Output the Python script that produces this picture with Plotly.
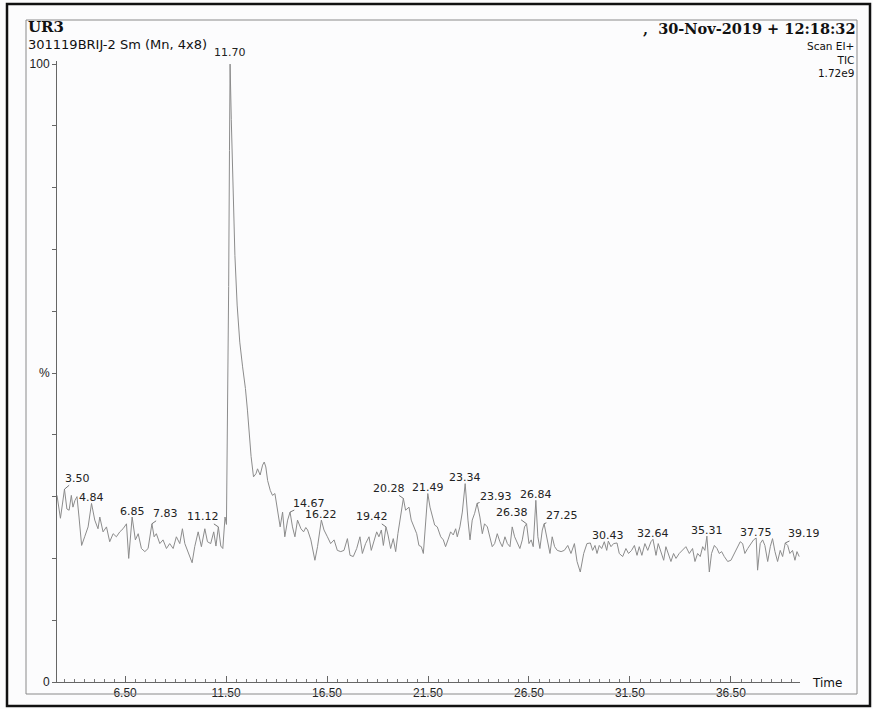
import plotly.graph_objects as go

# ---------------- data ----------------
time_min = [
    3.13, 3.22, 3.30, 3.40, 3.50, 3.62, 3.73, 3.84, 3.92, 4.02, 4.12, 4.22, 4.35, 4.50, 4.67,
    4.84, 5.00, 5.16, 5.25, 5.41, 5.58, 5.74, 5.91, 6.07, 6.24, 6.40, 6.57, 6.68, 6.85, 7.01,
    7.15, 7.31, 7.48, 7.64, 7.83, 7.94, 8.05, 8.22, 8.38, 8.55, 8.71, 8.88, 9.04, 9.21, 9.34,
    9.46, 9.62, 9.82, 9.95, 10.12, 10.28, 10.45, 10.58, 10.74, 10.89, 11.00, 11.12, 11.24, 11.34,
    11.45, 11.52, 11.58, 11.63, 11.67, 11.70, 11.76, 11.84, 11.94, 12.05, 12.18, 12.32, 12.46,
    12.56, 12.65, 12.74, 12.86, 12.98, 13.06, 13.19, 13.31, 13.39, 13.47, 13.56, 13.69, 13.80,
    13.92, 14.05, 14.18, 14.30, 14.41, 14.55, 14.67, 14.79, 14.91, 15.04, 15.21, 15.34, 15.45,
    15.54, 15.70, 15.90, 16.03, 16.22, 16.35, 16.52, 16.68, 16.85, 17.01, 17.18, 17.34, 17.51,
    17.64, 17.80, 17.97, 18.13, 18.25, 18.41, 18.58, 18.69, 18.83, 18.96, 19.07, 19.19, 19.29,
    19.42, 19.52, 19.65, 19.78, 19.90, 20.01, 20.15, 20.28, 20.39, 20.56, 20.67, 20.81, 20.94,
    21.05, 21.17, 21.27, 21.38, 21.49, 21.60, 21.71, 21.83, 21.96, 22.13, 22.26, 22.37, 22.49,
    22.62, 22.75, 22.87, 22.95, 23.08, 23.20, 23.34, 23.48, 23.58, 23.69, 23.81, 23.93, 24.07,
    24.19, 24.30, 24.44, 24.57, 24.68, 24.80, 24.93, 25.06, 25.18, 25.31, 25.43, 25.56, 25.67,
    25.79, 25.92, 26.05, 26.17, 26.28, 26.38, 26.50, 26.61, 26.71, 26.84, 26.94, 27.04, 27.16,
    27.25, 27.41, 27.54, 27.65, 27.77, 27.90, 28.09, 28.25, 28.42, 28.58, 28.75, 28.88, 29.04,
    29.21, 29.37, 29.54, 29.65, 29.77, 29.87, 29.98, 30.10, 30.23, 30.35, 30.43, 30.56, 30.69,
    30.86, 30.97, 31.14, 31.30, 31.43, 31.58, 31.72, 31.85, 31.96, 32.09, 32.24, 32.38, 32.54,
    32.64, 32.79, 32.90, 33.04, 33.17, 33.28, 33.40, 33.53, 33.66, 33.78, 33.94, 34.11, 34.27,
    34.44, 34.60, 34.72, 34.85, 34.98, 35.10, 35.21, 35.31, 35.43, 35.54, 35.68, 35.81, 35.92,
    36.04, 36.17, 36.34, 36.50, 36.67, 36.83, 36.96, 37.08, 37.19, 37.33, 37.49, 37.62, 37.75,
    37.82, 37.95, 38.07, 38.18, 38.32, 38.45, 38.56, 38.68, 38.81, 38.94, 39.06, 39.19, 39.31,
    39.42, 39.55, 39.67, 39.77, 39.88,
]
intensity_pct = [
    30.2, 28.0, 26.5, 28.8, 31.2, 28.0, 27.8, 30.2, 28.3, 29.4, 30.0, 26.7, 22.1, 23.5, 25.1,
    28.9, 26.2, 24.8, 26.7, 24.3, 25.1, 22.7, 24.0, 23.5, 24.3, 24.8, 25.6, 20.0, 26.7, 23.0,
    24.0, 21.6, 21.1, 21.6, 25.6, 23.5, 24.0, 22.4, 23.0, 21.6, 22.4, 21.6, 23.5, 22.4, 24.8,
    22.4, 21.1, 19.3, 21.9, 24.3, 21.9, 24.8, 22.7, 22.4, 24.3, 22.0, 25.1, 22.0, 21.6,
    26.7, 25.5, 42.0, 64.0, 86.0, 100.0, 91.0, 79.0, 69.0, 61.0, 55.0, 51.0, 47.5,
    44.0, 40.0, 36.5, 33.2, 33.7, 34.5, 33.5, 35.1, 35.6, 34.8, 32.6, 31.0, 30.2,
    30.5, 28.1, 25.1, 27.5, 23.5, 26.2, 27.5, 25.1, 23.5, 26.2, 24.8, 24.3, 25.0,
    24.6, 23.0, 19.7, 21.9, 26.2, 24.6, 23.5, 22.4, 23.0, 21.3, 21.1, 21.3, 23.2,
    20.5, 20.3, 21.6, 23.5, 20.8, 22.4, 23.5, 21.3, 23.0, 24.3, 23.5, 24.6, 22.1,
    25.1, 23.8, 21.6, 23.2, 21.1, 24.0, 27.3, 29.7, 27.8, 28.3, 26.2, 25.1, 24.0,
    22.1, 21.9, 20.8, 26.2, 30.5, 28.3, 26.7, 25.4, 25.1, 23.5, 23.0, 21.9, 23.0,
    24.3, 23.8, 24.8, 23.5, 25.1, 27.5, 32.1, 26.2, 23.0, 26.2, 27.3, 28.9, 26.7,
    24.0, 25.6, 25.1, 23.5, 21.9, 22.4, 24.0, 22.7, 21.9, 23.5, 22.4, 21.9, 25.1,
    23.5, 22.4, 21.6, 23.0, 25.1, 25.6, 22.4, 23.0, 21.9, 29.4, 23.5, 21.6, 24.6,
    25.6, 23.0, 20.8, 23.5, 21.9, 21.3, 21.1, 21.3, 22.1, 20.8, 22.4, 19.5, 17.8,
    20.8, 22.4, 22.5, 21.3, 22.1, 20.8, 22.1, 21.6, 22.7, 21.3, 22.8, 21.9, 22.4,
    22.5, 20.8, 20.3, 21.6, 20.8, 21.3, 22.1, 20.5, 21.9, 20.5, 22.4, 21.3, 22.7,
    23.1, 20.5, 22.4, 20.8, 19.7, 21.9, 20.8, 19.5, 20.8, 20.0, 20.8, 21.3, 21.9,
    20.8, 21.6, 19.5, 20.8, 20.3, 21.9, 21.3, 23.6, 17.8, 20.8, 22.1, 21.6, 20.8,
    21.1, 20.3, 19.5, 19.7, 20.8, 21.6, 22.7, 22.4, 20.8, 21.6, 22.4, 23.0, 23.3,
    18.1, 22.4, 23.0, 22.1, 19.5, 21.9, 23.2, 21.1, 19.5, 21.3, 20.3, 22.5, 22.1,
    20.8, 21.3, 19.7, 21.1, 20.3,
]

peak_labels = ["3.50", "4.84", "6.85", "7.83", "11.12", "11.70", "14.67", "16.22", "19.42",
               "20.28", "21.49", "23.34", "23.93", "26.38", "26.84", "27.25", "30.43",
               "32.64", "35.31", "37.75", "39.19"]

x_tick_start, x_tick_step = 6.5, 5.0
y_tick_vals = [0, 10, 20, 30, 40, 50, 60, 70, 80, 90, 100]
y_tick_text = ["0", "", "", "", "", "%", "", "", "", "", "100"]

# ---------------- style / layout ----------------
W, H = 873, 709
ML, MR, MT, MB = 57, 73, 61, 27
PW, PH = W - ML - MR, H - MT - MB
LINE_COL = "#8c8c8c"
TXT_COL = "#222"
SANS = "Liberation Sans, Arial, sans-serif"
WIDE_SANS = "DejaVu Sans, Arial, sans-serif"
SERIF = "DejaVu Serif, Liberation Serif, serif"

# label offsets in pixels: (dx, dy)
label_style = {
    "3.50": (13, -11), "7.83": (14, -10), "11.12": (-15, -10),
    "14.67": (19, -9), "19.42": (-14, -10), "20.28": (-14, -10),
    "23.93": (19, -7), "26.38": (-15, -11), "27.25": (18, -8),
    "39.19": (19, -9),
}


def px_to_paper(X, Y):
    return (X - ML) / PW, (H - MB - Y) / PH


fig = go.Figure()
fig.add_trace(go.Scatter(
    x=time_min, y=intensity_pct, mode="lines",
    line=dict(color=LINE_COL, width=1), hoverinfo="skip", showlegend=False,
))

annotations = []
for lab in peak_labels:
    t = float(lab)
    idx = min(range(len(time_min)), key=lambda i: abs(time_min[i] - t))
    yv = intensity_pct[idx]
    font = dict(family=WIDE_SANS, size=11, color=TXT_COL)
    if lab in label_style:
        dx, dy = label_style[lab]
        annotations.append(dict(
            x=time_min[idx], y=yv, xref="x", yref="y", text=lab, font=font,
            showarrow=True, ax=dx, ay=dy, axref="pixel", ayref="pixel", borderpad=0,
            arrowhead=0, arrowwidth=0.8, arrowcolor="#555", standoff=0, startstandoff=0,
        ))
    else:
        annotations.append(dict(
            x=time_min[idx], y=yv, xref="x", yref="y", text=lab, font=font, borderpad=0,
            showarrow=False, yanchor="middle", yshift=6 if lab != "11.70" else 12,
        ))


def hdr(X, Y, text, size, family, xanchor="left", bold=False, align="left"):
    px, py = px_to_paper(X, Y)
    annotations.append(dict(
        x=px, y=py, xref="paper", yref="paper", text=f"<b>{text}</b>" if bold else text,
        showarrow=False, xanchor=xanchor, yanchor="middle", align=align, borderpad=0,
        font=dict(family=family, size=size, color="#111"),
    ))


hdr(27, 27, "UR3", 15, SERIF, bold=True)
hdr(27, 44, "301119BRIJ-2 Sm (Mn, 4x8)", 13, WIDE_SANS)
hdr(857, 29, ",  30-Nov-2019 + 12:18:32", 14.5, SERIF, xanchor="right", bold=True)
hdr(855, 60, "Scan EI+<br>TIC<br>1.72e9", 10.5, WIDE_SANS, xanchor="right", align="right")
hdr(811, 683, "Time", 12, WIDE_SANS)

# decorative border of the printout
shapes = []
ox0, oy0 = px_to_paper(7, 4)
ox1, oy1 = px_to_paper(870, 706)
shapes.append(dict(type="rect", xref="paper", yref="paper", x0=ox0, y0=oy1, x1=ox1, y1=oy0,
                   line=dict(color="#111", width=2.5), layer="above"))
ix0, iy0 = px_to_paper(26, 20)
ix1, iy1 = px_to_paper(857, 694)
shapes.append(dict(type="rect", xref="paper", yref="paper", x0=ix0, y0=iy1, x1=ix1, y1=iy0,
                   line=dict(color="#8a8a8a", width=1), layer="above"))

fig.update_layout(
    width=W, height=H,
    margin=dict(l=ML, r=MR, t=MT, b=MB, pad=0, autoexpand=False),
    paper_bgcolor="#fcfcfd", plot_bgcolor="rgba(0,0,0,0)",
    annotations=annotations, shapes=shapes,
    showlegend=False,
)
fig.update_xaxes(
    range=[3.13, 39.92], showgrid=False, zeroline=False,
    showline=True, linecolor="#666", linewidth=1,
    tickmode="linear", tick0=x_tick_start, dtick=x_tick_step, tickformat=".2f",
    ticks="inside", ticklen=6, tickcolor="#666", tickwidth=1,
    minor=dict(tickmode="linear", tick0=x_tick_start, dtick=0.5, ticks="inside",
               ticklen=3, tickcolor="#777", tickwidth=1),
    tickfont=dict(family=SANS, size=12, color=TXT_COL),
)
fig.update_yaxes(
    range=[0, 100.5], showgrid=False, zeroline=False,
    showline=True, linecolor="#666", linewidth=1,
    tickmode="array", tickvals=y_tick_vals, ticktext=y_tick_text,
    ticks="outside", ticklen=4, tickcolor="#666",
    tickfont=dict(family=SANS, size=12, color=TXT_COL),
)

fig.write_html(
    "out.html",
    config={"displayModeBar": False, "staticPlot": True},
    post_script="document.body.style.margin='0px';document.body.style.padding='0px';",
)
